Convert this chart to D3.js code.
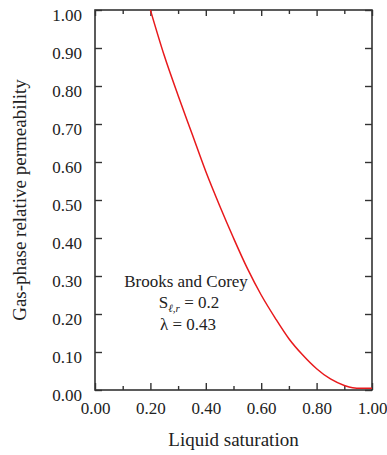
<!DOCTYPE html>
<html>
<head>
<meta charset="utf-8">
<script src="https://cdn.jsdelivr.net/npm/d3@7"></script>
<style>
  body { margin: 0; background: #fff; }
  text { font-family: "Liberation Serif", "Times New Roman", serif; fill: #222; }
</style>
</head>
<body>
<script>
// liquid saturation
var saturation = [0.20, 0.25, 0.30, 0.35, 0.40, 0.45, 0.50, 0.55, 0.60, 0.65,
                  0.70, 0.75, 0.80, 0.85, 0.90, 0.93, 0.96, 1.00];
// gas-phase relative permeability at those points
var permeability = [1.00, 0.88, 0.775, 0.675, 0.575, 0.485, 0.40, 0.32, 0.25, 0.19,
                    0.135, 0.092, 0.056, 0.029, 0.012, 0.006, 0.0045, 0.0045];

var xMajor = [0, 0.2, 0.4, 0.6, 0.8, 1.0];
var xMinor = [0.1, 0.3, 0.5, 0.7, 0.9];
var yTicks = [0, 0.1, 0.2, 0.3, 0.4, 0.5, 0.6, 0.7, 0.8, 0.9, 1.0];

var width = 387;
var height = 455;

// plot box
var pad = { top: 10, bottom: 65, left: 95, right: 15 };

var svg = d3.select("body")
            .append("svg")
            .attr("width", width)
            .attr("height", height);

var xScale = d3.scaleLinear()
               .domain([0, 1])
               .range([pad.left, width - pad.right]);
var yScale = d3.scaleLinear()
             .domain([0, 1])
             .range([height - pad.bottom, pad.top]);

var fmt = d3.format(".2f");

// bottom axis with labels
var axBottom = svg.append("g")
   .attr("transform", "translate(0," + yScale(0) + ")")
   .call(d3.axisBottom(xScale).tickValues(xMajor).tickSize(-7)
           .tickPadding(12).tickFormat(fmt));
axBottom.append("g")
   .call(d3.axisBottom(xScale).tickValues(xMinor).tickSize(-4).tickFormat(""));

// top axis, ticks only
var axTop = svg.append("g")
   .attr("transform", "translate(0," + yScale(1) + ")")
   .call(d3.axisTop(xScale).tickValues(xMajor).tickSize(-6).tickFormat(""));
axTop.append("g")
   .call(d3.axisTop(xScale).tickValues(xMinor).tickSize(-4).tickFormat(""));

// left axis with labels
var axLeft = svg.append("g")
   .attr("transform", "translate(" + xScale(0) + ",0)")
   .call(d3.axisLeft(yScale).tickValues(yTicks).tickSize(-7)
           .tickPadding(13).tickFormat(fmt));
axLeft.selectAll("text").attr("dy", "0.62em");

// right axis, ticks only
svg.append("g")
   .attr("transform", "translate(" + xScale(1) + ",0)")
   .call(d3.axisRight(yScale).tickValues(yTicks).tickSize(-7).tickFormat(""));

svg.selectAll(".domain").remove();
svg.selectAll(".tick line").attr("stroke", "#333").attr("stroke-width", 1.4);
svg.selectAll(".tick text")
   .style("font-family", "'Liberation Serif', serif")
   .style("font-size", "17px")
   .attr("fill", "#222");

// frame
svg.append("rect")
   .attr("x", xScale(0))
   .attr("y", yScale(1))
   .attr("width", xScale(1) - xScale(0))
   .attr("height", yScale(0) - yScale(1))
   .attr("fill", "none")
   .attr("stroke", "#333")
   .attr("stroke-width", 1.6);

// the curve
var points = saturation.map(function(s, i){
    return [s, permeability[i]];
});
var line = d3.line()
             .x(function(d){ return xScale(d[0]); })
             .y(function(d){ return yScale(d[1]); })
             .curve(d3.curveMonotoneX);
svg.append("path")
   .datum(points)
   .attr("d", line)
   .attr("fill", "none")
   .attr("stroke", "#e8191c")
   .attr("stroke-width", 1.5);

// axis titles
svg.append("text")
   .attr("x", (xScale(0) + xScale(1)) / 2)
   .attr("y", 446)
   .attr("text-anchor", "middle")
   .style("font-size", "19px")
   .text("Liquid saturation");

svg.append("text")
   .attr("transform", "translate(26," + (yScale(0) + yScale(1)) / 2 + ") rotate(-90)")
   .attr("text-anchor", "middle")
   .style("font-size", "19px")
   .text("Gas-phase relative permeability");

// annotation
var note = svg.append("g").style("font-size", "17px");
note.append("text")
    .attr("x", 186).attr("y", 287)
    .attr("text-anchor", "middle")
    .text("Brooks and Corey");
var sub = note.append("text")
    .attr("x", 189).attr("y", 308)
    .attr("text-anchor", "middle");
sub.append("tspan").text("S");
sub.append("tspan").attr("dy", 4).style("font-size", "11px")
   .style("font-style", "italic").text("ℓ,r");
sub.append("tspan").attr("dy", -4).text(" = 0.2");
note.append("text")
    .attr("x", 188).attr("y", 330)
    .attr("text-anchor", "middle")
    .text("λ = 0.43");
</script>
</body>
</html>
